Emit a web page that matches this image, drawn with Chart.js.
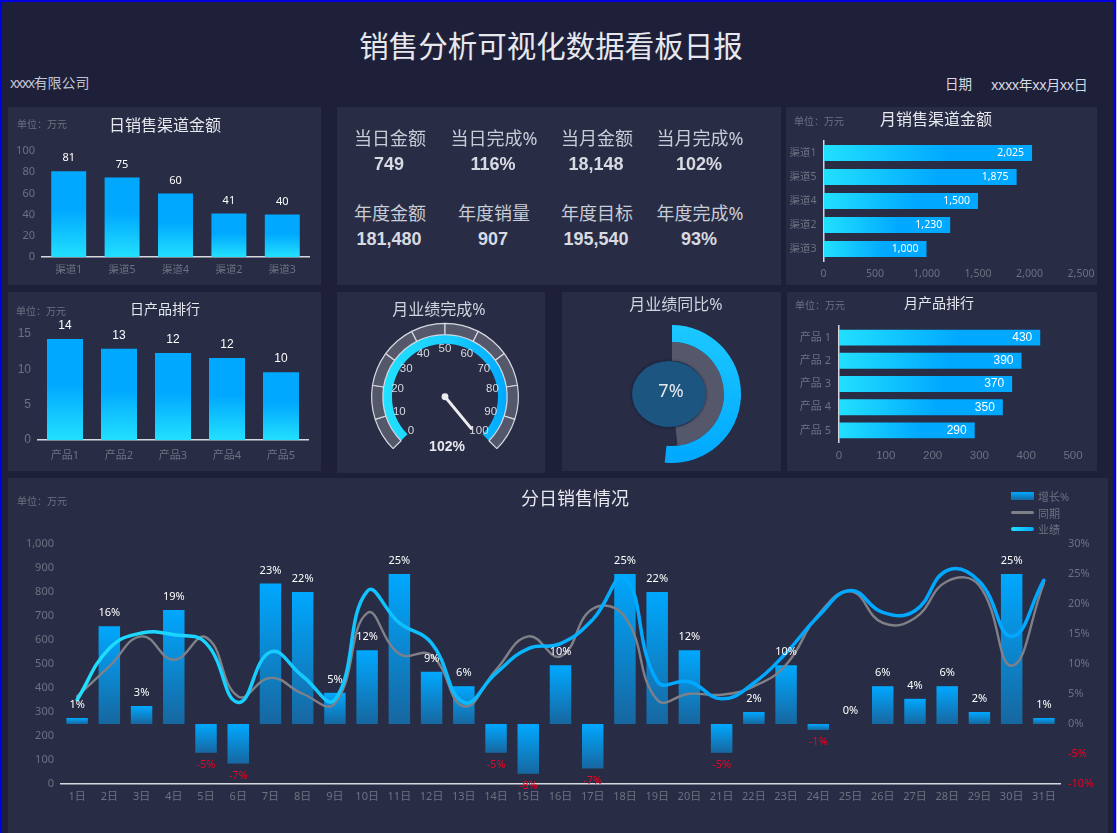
<!DOCTYPE html>
<html lang="zh">
<head>
<meta charset="utf-8">
<title>销售分析可视化数据看板日报</title>
<script src="https://cdn.jsdelivr.net/npm/chart.js@4/dist/chart.umd.min.js"></script>
<style>
  html, body { margin: 0; padding: 0; background: #0000e0; }
  body { width: 1117px; height: 833px; overflow: hidden; position: relative; font-family: "Noto Sans", "Noto Sans CJK SC", sans-serif; }
  #page { position: absolute; left: 2px; top: 2px; width: 1112px; height: 831px; background: #1e1f39; }
  #edge { position: absolute; left: 1116px; top: 0; width: 1px; height: 833px; background: #c8c8cc; }
  .panel { position: absolute; background: #282c44; }
  canvas { position: absolute; }
  .t { position: absolute; white-space: nowrap; transform: translate(-50%, -50%); color: #e6e8ee; line-height: 1; }
  .l { position: absolute; white-space: nowrap; transform: translateY(-50%); line-height: 1; }
  .unit { font-size: 10px; color: #6f7182; }
  .kpiLabel { font-size: 18px; color: #c8ccd6; }
  .kpiValue { font-size: 18px; font-weight: bold; color: #d8dae2; font-family: "Liberation Sans", sans-serif; }
  .swatch { position: absolute; width: 23px; }
</style>
</head>
<body>
<div id="page"></div>
<div id="edge"></div>

<div class="panel" style="left:8px;top:107px;width:313px;height:178px"></div>
<div class="panel" style="left:337px;top:107px;width:444px;height:178px"></div>
<div class="panel" style="left:786px;top:107px;width:311px;height:178px"></div>
<div class="panel" style="left:8px;top:292px;width:313px;height:179px"></div>
<div class="panel" style="left:337px;top:292px;width:208px;height:181px"></div>
<div class="panel" style="left:562px;top:292px;width:219px;height:179px"></div>
<div class="panel" style="left:787px;top:292px;width:310px;height:179px"></div>
<div class="panel" style="left:8px;top:478px;width:1100px;height:355px"></div>

<canvas id="chartDayChannel" width="313" height="178" style="left:8px;top:107px"></canvas>
<canvas id="chartMonthChannel" width="311" height="178" style="left:786px;top:107px"></canvas>
<canvas id="chartDayProduct" width="313" height="179" style="left:8px;top:292px"></canvas>
<canvas id="chartGauge" width="152" height="152" style="left:369px;top:310px"></canvas>
<canvas id="chartYoy" width="144" height="144" style="left:600px;top:322px"></canvas>
<canvas id="chartMonthProduct" width="310" height="179" style="left:787px;top:292px"></canvas>
<canvas id="chartDaily" width="1100" height="355" style="left:8px;top:478px"></canvas>

<div class="t" style="left:551px;top:46px;font-size:29.5px">销售分析可视化数据看板日报</div>
<div class="l" style="left:10px;top:83px;font-size:14px;color:#c0c4d0"><span style="letter-spacing:-1.5px">xxxx</span>有限公司</div>
<div class="l" style="left:945px;top:85px;font-size:13.5px;color:#d8dae2">日期</div>
<div class="l" style="left:991px;top:85px;font-size:14px;letter-spacing:-0.45px;color:#d8dae2">xxxx年xx月xx日</div>

<div class="l unit" style="left:17px;top:124px">单位：万元</div>
<div class="t" style="left:165px;top:125px;font-size:16px">日销售渠道金额</div>
<div class="l unit" style="left:794px;top:121px">单位：万元</div>
<div class="t" style="left:936px;top:119px;font-size:16px">月销售渠道金额</div>
<div class="l unit" style="left:16px;top:311px">单位：万元</div>
<div class="t" style="left:165px;top:309px;font-size:14px">日产品排行</div>
<div class="t" style="left:439px;top:309px;font-size:16px;color:#d0d4de">月业绩完成%</div>
<div class="t" style="left:676px;top:304px;font-size:16px;color:#d0d4de">月业绩同比%</div>
<div class="l unit" style="left:795px;top:305px">单位：万元</div>
<div class="t" style="left:939px;top:303px;font-size:14px">月产品排行</div>
<div class="l unit" style="left:17px;top:501px">单位：万元</div>
<div class="t" style="left:575px;top:498px;font-size:18px">分日销售情况</div>

<div class="swatch" style="left:1011px;top:492px;height:8px;background:linear-gradient(#00a8ff,#1767a0)"></div>
<div class="swatch" style="left:1011px;top:511px;height:3px;border-radius:2px;background:#808088"></div>
<div class="swatch" style="left:1011px;top:527px;height:4px;border-radius:2px;background:linear-gradient(90deg,#22e0ff,#00a8ff)"></div>
<div class="l" style="left:1038px;top:496px;font-size:11px;color:#6f7182">增长%</div>
<div class="l" style="left:1038px;top:513px;font-size:11px;color:#6f7182">同期</div>
<div class="l" style="left:1038px;top:529px;font-size:11px;color:#6f7182">业绩</div>

<script>
// 日销售渠道金额
const dayChannelNames = ['渠道1', '渠道5', '渠道4', '渠道2', '渠道3'];
const dayChannelValues = [81, 75, 60, 41, 40];
// 月销售渠道金额
const monthChannelNames = ['渠道1', '渠道5', '渠道4', '渠道2', '渠道3'];
const monthChannelValues = [2025, 1875, 1500, 1230, 1000];
// 日产品排行
const dayProductNames = ['产品1', '产品2', '产品3', '产品4', '产品5'];
const dayProductValues = [14.3, 12.9, 12.3, 11.6, 9.6];
// 月产品排行
const monthProductNames = ['产品 1', '产品 2', '产品 3', '产品 4', '产品 5'];
const monthProductValues = [430, 390, 370, 350, 290];
// 仪表盘
const gaugeSegments = [10, 10, 10, 10, 10, 10, 10, 10, 10, 10];
const gaugeTicks = [0, 10, 20, 30, 40, 50, 60, 70, 80, 90, 100];
const gaugeValue = 102;
// 同比
const yoyCurrent = 107;
const yoyPrior = 100;
// 分日销售
const dayNames = ['1日', '2日', '3日', '4日', '5日', '6日', '7日', '8日', '9日', '10日', '11日', '12日', '13日', '14日', '15日', '16日', '17日', '18日', '19日', '20日', '21日', '22日', '23日', '24日', '25日', '26日', '27日', '28日', '29日', '30日', '31日'];
const dayGrowth = [1, 16.3, 3, 19, -4.8, -6.6, 23.4, 22, 5.2, 12.3, 25, 8.7, 6.3, -4.8, -8.3, 9.8, -7.4, 25, 22, 12.3, -4.8, 2, 9.8, -1, 0, 6.3, 4.2, 6.3, 2, 25, 1];
const dayPrior = [365, 490, 615, 518, 611, 365, 442, 376, 335, 712, 542, 536, 324, 476, 615, 532, 730, 696, 351, 376, 372, 407, 497, 705, 803, 671, 692, 845, 826, 493, 837];
const dayActual = [351, 565, 629, 622, 587, 340, 550, 449, 351, 803, 671, 587, 340, 462, 564, 585, 685, 860, 429, 426, 355, 421, 546, 699, 806, 715, 722, 890, 844, 615, 849];
// 顶部指标
const kpiLabels = ['当日金额', '当日完成%', '当月金额', '当月完成%', '年度金额', '年度销量', '年度目标', '年度完成%'];
const kpiValues = ['749', '116%', '18,148', '102%', '181,480', '907', '195,540', '93%'];

const CJK_FONT = '"Noto Sans", "Noto Sans CJK SC", sans-serif';
const ARIAL_FONT = '"Liberation Sans", "Noto Sans CJK SC", sans-serif';
const TICK_COLOR = '#6f7182';
const AXIS_COLOR = '#d6d8de';
const BLUE = '#00a8ff';
const CYAN = '#22e0ff';
const RED = '#f00020';

Chart.defaults.animation = false;
Chart.defaults.responsive = false;
Chart.defaults.font.family = CJK_FONT;
Chart.defaults.plugins.legend.display = false;
Chart.defaults.plugins.tooltip.enabled = false;

// kpi text block
const kpiX = [390, 494, 597, 700];
kpiLabels.forEach((label, i) => {
  const row = Math.floor(i / 4);
  const el = document.createElement('div');
  el.className = 't kpiLabel';
  el.style.left = kpiX[i % 4] + 'px';
  el.style.top = (138 + row * 75) + 'px';
  el.textContent = label;
  document.body.appendChild(el);

  const val = document.createElement('div');
  val.className = 't kpiValue';
  val.style.left = (kpiX[i % 4] - 1) + 'px';
  val.style.top = (163.5 + row * 75) + 'px';
  val.textContent = kpiValues[i];
  document.body.appendChild(val);
});

// fixes the plot rectangle so it lands where the reference has it
function fixHeight(h) {
  return s => { s.height = h; s.paddingLeft = s.paddingRight = s.paddingTop = s.paddingBottom = 0; };
}
function fixWidth(w) {
  return s => { s.width = w; s.paddingLeft = s.paddingRight = s.paddingTop = s.paddingBottom = 0; };
}

// value labels next to each bar
const barLabels = {
  id: 'barLabels',
  afterDatasetsDraw(chart, args, opts) {
    const { ctx } = chart;
    const meta = chart.getDatasetMeta(opts.datasetIndex || 0);
    const values = chart.data.datasets[opts.datasetIndex || 0].data;
    ctx.save();
    ctx.font = opts.font;
    ctx.textBaseline = 'middle';
    meta.data.forEach((el, i) => {
      const v = values[i];
      if (opts.inside) {
        ctx.fillStyle = '#ffffff';
        ctx.textAlign = 'right';
        ctx.fillText(v.toLocaleString('en-US'), el.x - 8, el.y);
      } else {
        ctx.textAlign = 'center';
        const neg = v < 0;
        ctx.fillStyle = neg ? RED : '#ffffff';
        ctx.fillText(Math.round(v) + (opts.suffix || ''), el.x, neg ? el.y + 12 : el.y - 13);
      }
    });
    ctx.restore();
  }
};

function verticalFill(stops, axisId) {
  return c => {
    const { chart } = c;
    if (c.type !== 'data' || !chart.chartArea) return BLUE;
    const scale = chart.scales[axisId];
    const a = scale.getPixelForValue(0);
    const b = scale.getPixelForValue(c.raw);
    const g = chart.ctx.createLinearGradient(0, Math.min(a, b), 0, Math.max(a, b));
    stops.forEach(([at, col]) => g.addColorStop(at, col));
    return g;
  };
}

function horizontalFill() {
  return c => {
    const { chart } = c;
    if (c.type !== 'data' || !chart.chartArea) return BLUE;
    const scale = chart.scales.x;
    const g = chart.ctx.createLinearGradient(scale.getPixelForValue(0), 0, scale.getPixelForValue(c.raw), 0);
    g.addColorStop(0, CYAN);
    g.addColorStop(0.6, BLUE);
    g.addColorStop(1, BLUE);
    return g;
  };
}

function columnChart(id, names, values, cfg) {
  return new Chart(document.getElementById(id), {
    type: 'bar',
    data: {
      labels: names,
      datasets: [{
        data: values,
        barPercentage: cfg.barPct,
        categoryPercentage: 1,
        backgroundColor: verticalFill([[0, BLUE], [0.45, BLUE], [1, CYAN]], 'y')
      }]
    },
    options: {
      layout: { padding: cfg.padding },
      plugins: { barLabels: { font: cfg.labelFont } },
      scales: {
        x: {
          grid: { display: false, drawTicks: false },
          border: { color: AXIS_COLOR, width: 1.5 },
          ticks: { color: TICK_COLOR, font: { size: cfg.xSize }, padding: cfg.xPad, maxRotation: 0, autoSkip: false },
          afterFit: fixHeight(cfg.xHeight)
        },
        y: {
          min: 0,
          max: cfg.max,
          grid: { display: false, drawTicks: false },
          border: { display: false },
          ticks: { stepSize: cfg.step, color: TICK_COLOR, font: { size: cfg.ySize, family: cfg.tickFamily }, padding: 7 },
          afterFit: fixWidth(cfg.yWidth)
        }
      }
    },
    plugins: [barLabels]
  });
}

function rowChart(id, names, values, cfg) {
  return new Chart(document.getElementById(id), {
    type: 'bar',
    data: {
      labels: names,
      datasets: [{
        data: values,
        barPercentage: cfg.barPct,
        categoryPercentage: 1,
        backgroundColor: horizontalFill()
      }]
    },
    options: {
      indexAxis: 'y',
      layout: { padding: cfg.padding },
      plugins: { barLabels: { font: cfg.labelFont, inside: true } },
      scales: {
        x: {
          min: 0,
          max: cfg.max,
          grid: { display: false, drawTicks: false },
          border: { display: false },
          ticks: { stepSize: cfg.step, color: TICK_COLOR, font: { size: cfg.xSize, family: cfg.tickFamily }, padding: 7, maxRotation: 0 },
          afterFit: fixHeight(cfg.xHeight)
        },
        y: {
          grid: { display: false, drawTicks: false },
          border: { color: AXIS_COLOR, width: 1.5 },
          ticks: { color: TICK_COLOR, font: { size: cfg.ySize }, padding: cfg.yPad, autoSkip: false },
          afterFit: fixWidth(cfg.yWidth)
        }
      }
    },
    plugins: [barLabels]
  });
}

columnChart('chartDayChannel', dayChannelNames, dayChannelValues, {
  max: 100, step: 20, barPct: 0.655, xSize: 10.5, ySize: 11, xPad: 7,
  padding: { top: 44, right: 12 }, xHeight: 28, yWidth: 34,
  labelFont: '11px ' + CJK_FONT
});

columnChart('chartDayProduct', dayProductNames, dayProductValues, {
  max: 15, step: 5, barPct: 0.667, xSize: 11, ySize: 12, xPad: 9, tickFamily: ARIAL_FONT,
  padding: { top: 42, right: 13 }, xHeight: 31, yWidth: 30,
  labelFont: '12px ' + ARIAL_FONT
});

rowChart('chartMonthChannel', monthChannelNames, monthChannelValues, {
  max: 2500, step: 500, barPct: 0.667, yPad: 7, xSize: 10.5, ySize: 10.5,
  padding: { top: 34, right: 16 }, xHeight: 24, yWidth: 37.5,
  labelFont: '10.5px ' + CJK_FONT
});

rowChart('chartMonthProduct', monthProductNames, monthProductValues, {
  max: 500, step: 100, barPct: 0.686, yPad: 8, xSize: 11.5, ySize: 11, tickFamily: ARIAL_FONT,
  padding: { top: 34, right: 24 }, xHeight: 29, yWidth: 52,
  labelFont: '12px ' + ARIAL_FONT
});

// gauge: grey scale ring plus the filled ring, needle and labels from the arc geometry
const gaugeCanvas = document.getElementById('chartGauge');
const gaugeFill = gaugeCanvas.getContext('2d').createLinearGradient(14, 0, 138, 0);
gaugeFill.addColorStop(0, CYAN);
gaugeFill.addColorStop(0.55, '#18ccff');
gaugeFill.addColorStop(1, BLUE);

const gaugeOverlay = {
  id: 'gaugeOverlay',
  afterDraw(chart) {
    const { ctx } = chart;
    const arc = chart.getDatasetMeta(0).data[0];
    const toAngle = v => (-135 + v / 100 * 270) * Math.PI / 180;
    ctx.save();
    ctx.fillStyle = '#d8dae2';
    ctx.font = '11.5px ' + ARIAL_FONT;
    ctx.textAlign = 'center';
    ctx.textBaseline = 'middle';
    gaugeTicks.forEach(v => {
      const a = toAngle(v);
      ctx.fillText(String(v), arc.x + Math.sin(a) * 48, arc.y - Math.cos(a) * 48);
    });
    const a = toAngle(gaugeValue);
    ctx.strokeStyle = '#ececf0';
    ctx.lineWidth = 3;
    ctx.lineCap = 'round';
    ctx.beginPath();
    ctx.moveTo(arc.x, arc.y);
    ctx.lineTo(arc.x + Math.sin(a) * 41, arc.y - Math.cos(a) * 41);
    ctx.stroke();
    ctx.beginPath();
    ctx.fillStyle = '#ececf0';
    ctx.arc(arc.x, arc.y, 3.4, 0, Math.PI * 2);
    ctx.fill();
    ctx.font = 'bold 14px ' + ARIAL_FONT;
    ctx.fillStyle = '#e6e8ee';
    ctx.fillText(gaugeValue + '%', arc.x + 2, arc.y + 50);
    ctx.restore();
  }
};

new Chart(gaugeCanvas, {
  type: 'doughnut',
  data: {
    datasets: [
      { data: gaugeSegments, backgroundColor: '#55586a', borderColor: '#d8dae2', borderWidth: 1.2, weight: 11 },
      { data: [100], backgroundColor: gaugeFill, borderWidth: 0, weight: 9 }
    ]
  },
  options: {
    rotation: -135,
    circumference: 270,
    cutout: 53,
    layout: { padding: 2 }
  },
  plugins: [gaugeOverlay]
});

// yoy doughnut with the oval disc in the middle
const yoyCanvas = document.getElementById('chartYoy');
const yoyFill = yoyCanvas.getContext('2d').createLinearGradient(0, 3, 0, 141);
yoyFill.addColorStop(0, '#1cc8ff');
yoyFill.addColorStop(1, BLUE);

const yoyCentre = {
  id: 'yoyCentre',
  afterDraw(chart) {
    const { ctx } = chart;
    const arc = chart.getDatasetMeta(0).data[0];
    ctx.save();
    ctx.shadowColor = 'rgba(10,16,40,0.7)';
    ctx.shadowBlur = 3;
    ctx.fillStyle = '#1c5580';
    ctx.beginPath();
    ctx.ellipse(arc.x - 3, arc.y, 37, 33, 0, 0, Math.PI * 2);
    ctx.fill();
    ctx.shadowBlur = 0;
    ctx.fillStyle = '#e6e8ee';
    ctx.font = '18px ' + CJK_FONT;
    ctx.textAlign = 'center';
    ctx.textBaseline = 'middle';
    ctx.fillText((yoyCurrent - yoyPrior) + '%', arc.x - 1, arc.y - 2);
    ctx.restore();
  }
};

new Chart(yoyCanvas, {
  type: 'doughnut',
  data: {
    datasets: [
      { data: [yoyCurrent, yoyPrior], backgroundColor: [yoyFill, 'transparent'], borderWidth: 0, weight: 17 },
      { data: [yoyPrior, yoyCurrent], backgroundColor: ['#55586a', 'transparent'], borderWidth: 0, weight: 19 }
    ]
  },
  options: { cutout: 33, layout: { padding: 3 } },
  plugins: [yoyCentre]
});

// daily combo chart
const dailyCanvas = document.getElementById('chartDaily');
const actualStroke = dailyCanvas.getContext('2d').createLinearGradient(53, 0, 1052, 0);
actualStroke.addColorStop(0, CYAN);
actualStroke.addColorStop(0.6, BLUE);
actualStroke.addColorStop(1, BLUE);

new Chart(dailyCanvas, {
  data: {
    labels: dayNames,
    datasets: [
      {
        type: 'line', label: '业绩', data: dayActual, yAxisID: 'y', order: 1,
        borderColor: actualStroke, borderWidth: 3.5, tension: 0.45, pointRadius: 0, borderCapStyle: 'round'
      },
      {
        type: 'line', label: '同期', data: dayPrior, yAxisID: 'y', order: 2,
        borderColor: '#808088', borderWidth: 2.4, tension: 0.45, pointRadius: 0, borderCapStyle: 'round'
      },
      {
        type: 'bar', label: '增长%', data: dayGrowth, yAxisID: 'y1', order: 3,
        barPercentage: 0.667, categoryPercentage: 1,
        backgroundColor: verticalFill([[0, BLUE], [1, '#1767a0']], 'y1')
      }
    ]
  },
  options: {
    layout: { padding: { top: 66 } },
    plugins: { barLabels: { datasetIndex: 2, suffix: '%', font: '11px ' + CJK_FONT } },
    scales: {
      x: {
        grid: { display: false, drawTicks: false },
        border: { color: AXIS_COLOR, width: 1.5 },
        ticks: { color: TICK_COLOR, font: { size: 11 }, padding: 6, maxRotation: 0, autoSkip: false },
        afterFit: fixHeight(49)
      },
      y: {
        position: 'left',
        min: 0,
        max: 1000,
        grid: { display: false, drawTicks: false },
        border: { display: false },
        ticks: { stepSize: 100, color: TICK_COLOR, font: { size: 11 }, padding: 7, callback: v => v.toLocaleString('en-US') },
        afterFit: fixWidth(53)
      },
      y1: {
        position: 'right',
        min: -10,
        max: 30,
        grid: { display: false, drawTicks: false },
        border: { display: false },
        ticks: {
          stepSize: 5,
          padding: 8,
          font: { size: 11 },
          color: c => (c.tick.value < 0 ? RED : TICK_COLOR),
          callback: v => v + '%'
        },
        afterFit: fixWidth(48)
      }
    }
  },
  plugins: [barLabels]
});
</script>
</body>
</html>
